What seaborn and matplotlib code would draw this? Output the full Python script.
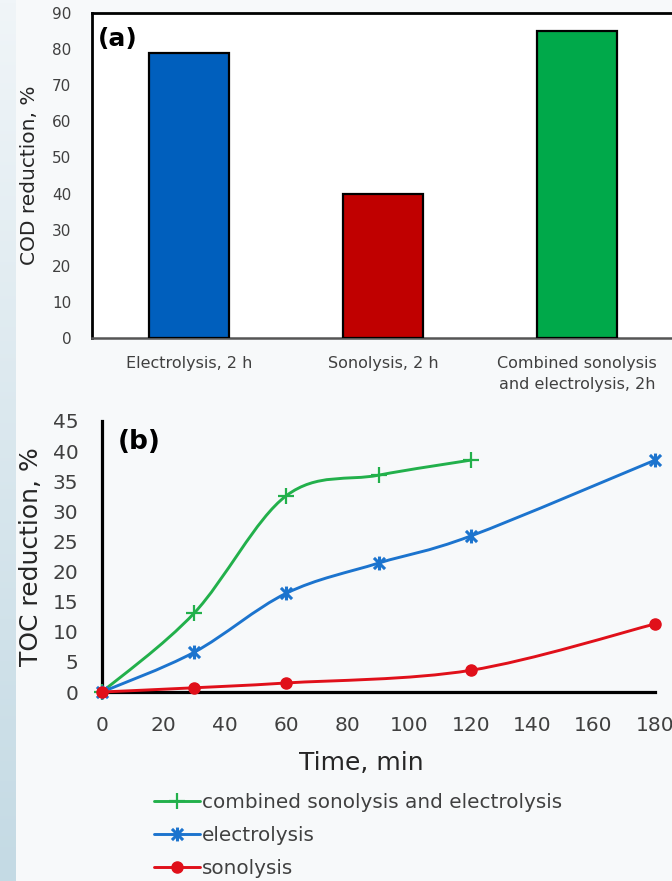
import numpy as np
import pandas as pd
import matplotlib
matplotlib.use("Agg")
import matplotlib.pyplot as plt
from matplotlib.path import Path
from matplotlib.patches import PathPatch
from matplotlib.lines import Line2D
import seaborn as sns

# ---- data -------------------------------------------------------------
cod_categories = ["Electrolysis, 2 h", "Sonolysis, 2 h",
                  "Combined sonolysis\nand electrolysis, 2h"]
cod_values = [79, 40, 85]
bar_colors = ["#005FBD", "#C00000", "#00A94A"]

time_combined = [0, 30, 60, 90, 120]
toc_combined = [0, 13.1, 32.6, 36.0, 38.5]
time_electro = [0, 30, 60, 90, 120, 180]
toc_electro = [0, 6.6, 16.4, 21.4, 25.9, 38.5]
time_sono = [0, 30, 60, 120, 180]
toc_sono = [0, 0.7, 1.5, 3.6, 11.3]

series_labels = ["combined sonolysis and electrolysis", "electrolysis", "sonolysis"]
line_colors = ["#22B04B", "#1C74CE", "#E0101A"]

# ---- style ------------------------------------------------------------
sns.set_theme(style="white")
plt.rcParams["font.family"] = ["DejaVu Sans"]
TICK = "#404040"
LABEL = "#262626"

fig = plt.figure(figsize=(6.72, 8.81), dpi=100, facecolor="#f7f9fa")

# soft blue strip along the left edge
ax_bg = fig.add_axes([0, 0, 16 / 672, 1], zorder=-5)
grad = np.linspace(0, 1, 256)[:, None]
strip = np.zeros((256, 1, 3))
top = np.array([0xf0, 0xf5, 0xf8]) / 255
bot = np.array([0xc4, 0xda, 0xe4]) / 255
strip[:] = top + (bot - top) * grad[:, :, None]
ax_bg.imshow(strip, aspect="auto", extent=[0, 1, 0, 1], origin="upper")
ax_bg.axis("off")

# ---- panel (a): COD bars -----------------------------------------------
W, H = 672, 881
ax_a = fig.add_axes([92 / W, 1 - 338 / H, 582 / W, 325 / H])
ax_a.set_facecolor("white")
cod_df = pd.DataFrame({"method": cod_categories, "cod": cod_values})
sns.barplot(data=cod_df, x="method", y="cod", hue="method",
            palette=bar_colors, saturation=1, legend=False, width=0.41,
            edgecolor="black", linewidth=1.6, ax=ax_a, zorder=3)
ax_a.set_xlim(-0.5, 2.5)
ax_a.set_ylim(0, 90)
ax_a.set_yticks(range(0, 91, 10))
ax_a.set_xlabel("")
ax_a.set_ylabel("COD reduction, %", fontsize=14.5, color=LABEL)
ax_a.yaxis.set_label_coords(-0.108, 0.5)
ax_a.yaxis.label.set_va("center")
ax_a.tick_params(axis="y", length=0, pad=15, labelsize=11, labelcolor=TICK)
ax_a.tick_params(axis="x", length=0, pad=13, labelsize=11.5, labelcolor=TICK)
for lbl in ax_a.get_xticklabels():
    lbl.set_linespacing(1.5)
for side in ["top", "left", "right"]:
    ax_a.spines[side].set_color("black")
    ax_a.spines[side].set_linewidth(2.0)
ax_a.spines["bottom"].set_color("#555555")
ax_a.spines["bottom"].set_linewidth(1.8)
ax_a.text(0.010, 0.958, "(a)", transform=ax_a.transAxes, fontsize=18,
          fontweight="bold", color="black", ha="left", va="top")

# ---- panel (b): TOC over time -------------------------------------------
ax_b = fig.add_axes([102 / W, 1 - 692 / H, 553 / W, 271 / H])
ax_b.set_facecolor("none")
ax_b.set_xlim(0, 180)
ax_b.set_ylim(0, 45)
ax_b.set_xticks(range(0, 181, 20))
ax_b.set_yticks(range(0, 46, 5))
ax_b.tick_params(axis="both", length=0, labelsize=14.5, labelcolor=TICK)
ax_b.tick_params(axis="y", pad=17)
ax_b.tick_params(axis="x", pad=17)
for side in ["top", "right"]:
    ax_b.spines[side].set_visible(False)
for side in ["left", "bottom"]:
    ax_b.spines[side].set_color("black")
    ax_b.spines[side].set_linewidth(2.3)
    ax_b.spines[side].set_zorder(1)

ax_b.set_ylabel("TOC reduction, %", fontsize=18, color=LABEL)
ax_b.yaxis.set_label_coords(-0.128, 0.5)
ax_b.yaxis.label.set_va("center")
ax_b.set_xlabel("Time, min", fontsize=18, color=LABEL)
ax_b.xaxis.set_label_coords(0.469, -0.262)
ax_b.xaxis.label.set_va("center")
ax_b.text(0.029, 0.972, "(b)", transform=ax_b.transAxes, fontsize=19,
          fontweight="bold", color="black", ha="left", va="top")


def smooth_path(xs, ys):
    """Cubic Bezier through the points (spreadsheet-style smoothed line)."""
    pts = np.column_stack([xs, ys]).astype(float)
    n = len(pts)
    verts = [pts[0]]
    codes = [Path.MOVETO]
    for i in range(n - 1):
        p0 = pts[i - 1] if i > 0 else pts[i]
        p1, p2 = pts[i], pts[i + 1]
        p3 = pts[i + 2] if i + 2 < n else pts[i + 1]
        verts += [p1 + (p2 - p0) / 6, p2 - (p3 - p1) / 6, p2]
        codes += [Path.CURVE4] * 3
    return Path(verts, codes)


star = Path([(-1, -1), (1, 1), (-1, 1), (1, -1), (0, -1.25), (0, 1.25)],
            [Path.MOVETO, Path.LINETO, Path.MOVETO, Path.LINETO,
             Path.MOVETO, Path.LINETO])

series = [
    (time_combined, toc_combined, "+", 11, 1.6),
    (time_electro, toc_electro, star, 10, 2.2),
    (time_sono, toc_sono, "o", 8, 1.0),
]

handles = []
for k, ((tx, ty, mk, ms, mew), col) in enumerate(zip(series, line_colors)):
    z = 4 + 2 * k
    patch = PathPatch(smooth_path(tx, ty), fill=False, edgecolor=col,
                      linewidth=2.1, capstyle="round", clip_on=False,
                      transform=ax_b.transData, zorder=z)
    ax_b.add_patch(patch)
    sns.lineplot(x=tx, y=ty, ax=ax_b, color=col, linewidth=0, marker=mk,
                 markersize=ms, markeredgewidth=mew, markeredgecolor=col,
                 markerfacecolor=col, clip_on=False, zorder=z + 1,
                 legend=False)
    handles.append(Line2D([], [], color=col, linewidth=2.1, marker=mk,
                          markersize=ms, markeredgewidth=mew,
                          markeredgecolor=col, markerfacecolor=col))

leg = fig.legend(handles, series_labels, loc="upper left",
                 bbox_to_anchor=(154 / W, 1 - 793 / H), frameon=False,
                 fontsize=14.4, handlelength=2.3, handletextpad=0.1,
                 labelspacing=0.7, borderpad=0, borderaxespad=0)
for t in leg.get_texts():
    t.set_color(TICK)

fig.savefig("out.png", dpi=100, facecolor=fig.get_facecolor())
